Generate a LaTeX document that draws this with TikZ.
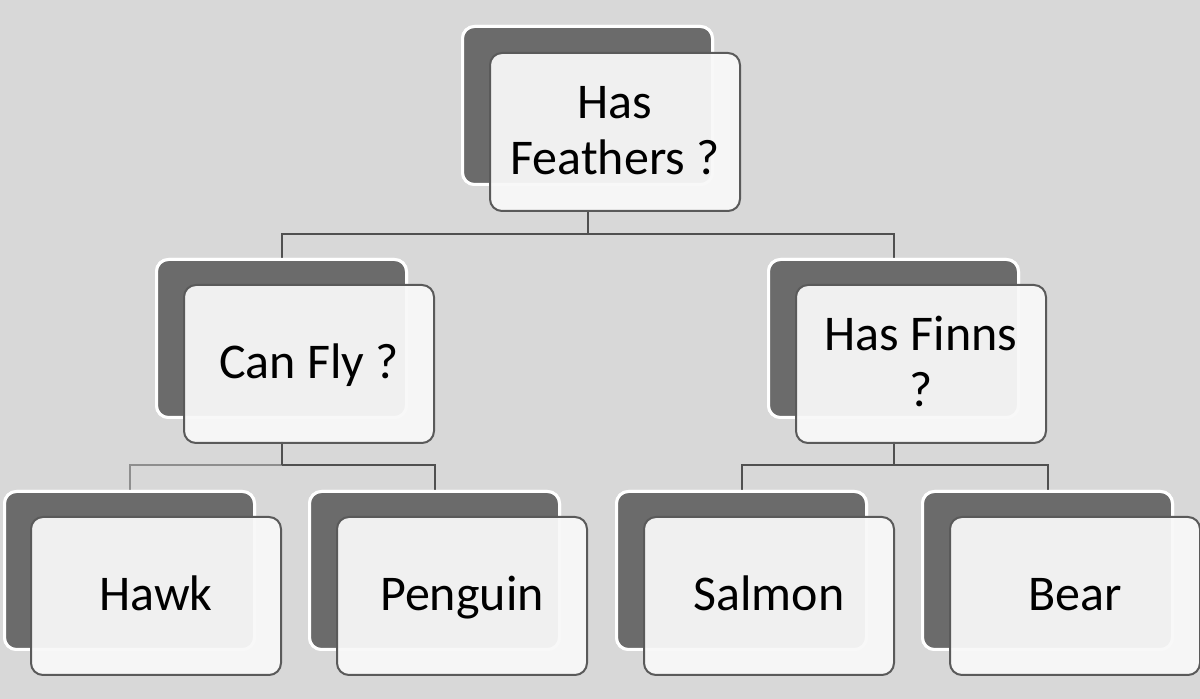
\documentclass[tikz,border=0pt]{standalone}
\usepackage{fontspec}
\setmainfont{Carlito}
\newcommand\mystrut{\vrule height 21.1pt depth 6.9pt width 0pt}
\begin{document}
\begin{tikzpicture}[x=0.5pt,y=-0.5pt,
  backbox/.style={draw=white, line width=1.5pt, fill=backgray, rounded corners=6pt,
    minimum width=125pt, minimum height=79pt, inner sep=0pt, anchor=north west},
  frontbox/.style={draw=framegray, line width=1pt, fill=frontfill, fill opacity=0.95, text opacity=1,
    rounded corners=6pt, minimum width=125pt, minimum height=79pt, inner sep=0pt,
    anchor=north west, align=center, font=\fontsize{25}{28}\selectfont},
  conn/.style={draw=linegray, line width=1pt},
  connlight/.style={draw=lightline, line width=1pt}]
\definecolor{bg}{HTML}{D8D8D8}
\definecolor{backgray}{HTML}{6B6B6B}
\definecolor{framegray}{HTML}{5A5A5A}
\definecolor{frontfill}{HTML}{F8F8F8}
\definecolor{linegray}{HTML}{505050}
\definecolor{lightline}{HTML}{8E8E8E}
\fill[bg] (0,0) rectangle (1200,699);
\useasboundingbox (0,0) rectangle (1200,699);
% coordinates for buses
\coordinate (bus0) at (0,234);
\coordinate (bus1) at (0,465);
% back boxes
\node[backbox] (b0) at (461,25) {};
\node[backbox] (b1) at (155,258) {};
\node[backbox] (b2) at (767,258) {};
\node[backbox] (b3) at (3,490) {};
\node[backbox] (b4) at (308,490) {};
\node[backbox] (b5) at (615,490) {};
\node[backbox] (b6) at (921,490) {};
% connectors (behind front boxes)
\coordinate (f0s) at (600,210);
\coordinate (f1s) at (300,441);
\coordinate (f2s) at (900,441);
\draw[conn] (b0.center |- f0s) -- (b0.center |- bus0) -| (b1.north);
\draw[conn] (b0.center |- bus0) -| (b2.north);
\draw[connlight] (b1.center |- f1s) -- (b1.center |- bus1) -| (b3.north);
\draw[conn] (b1.center |- bus1) -| (b4.north);
\draw[conn] (b1.center |- f1s) -- (b1.center |- bus1);
\draw[conn] (b2.center |- f2s) -- (b2.center |- bus1) -| (b5.north);
\draw[conn] (b2.center |- bus1) -| (b6.north);
% redraw back boxes over connector ends
\node[backbox] at (461,25) {};
\node[backbox] at (155,258) {};
\node[backbox] at (767,258) {};
\node[backbox] at (3,490) {};
\node[backbox] at (308,490) {};
\node[backbox] at (615,490) {};
\node[backbox] at (921,490) {};
% front boxes
\node[frontbox] (f0) at (489,52) {\mystrut Has\\Feathers ?\mystrut};
\node[frontbox] (f1) at (183,284) {\mystrut Can Fly ?};
\node[frontbox] (f2) at (795,284) {\mystrut Has Finns\\?\mystrut};
\node[frontbox] (f3) at (30,516) {\mystrut Hawk};
\node[frontbox] (f4) at (336,516) {\mystrut Penguin};
\node[frontbox] (f5) at (643,516) {\mystrut Salmon};
\node[frontbox] (f6) at (949,516) {\mystrut Bear};
\end{tikzpicture}
\end{document}
